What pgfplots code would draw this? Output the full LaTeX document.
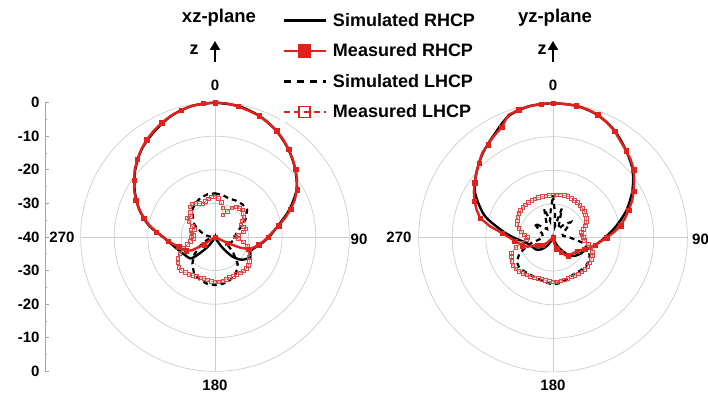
\documentclass[border=0pt]{standalone}
\usepackage{pgfplots}
\pgfplotsset{compat=1.18}
\usepackage{pgfplotstable}
\usepackage{fontspec}
\setmainfont{Liberation Sans}
\usetikzlibrary{arrows.meta}
\definecolor{mred}{RGB}{226,32,28}
\definecolor{lred}{RGB}{224,70,70}
\definecolor{gridg}{RGB}{205,205,205}
\definecolor{axisgray}{RGB}{160,165,180}

% ---------- xz-plane ----------
\pgfplotstableread{
t d
0 0
10 -0.4
20 -1.6
30 -3.5
40 -6.0
50 -8.8
60 -12.0
70 -16.5
80 -21.0
90 -24.0
100 -26.5
110 -28.5
120 -28.0
130 -29.5
138 -32
145 -36
155 -39.5
180 -40
205 -39.5
215 -37
222 -34
228 -30.5
240 -29.5
250 -28.5
260 -27
270 -24.5
280 -20
290 -16
300 -12.4
310 -9
320 -6
330 -3.8
340 -1.7
350 -0.4
360 0
}\simRL
\pgfplotstableread{
t d
0 0
5 -0.1
10 -0.5
15 -1.1
20 -1.6
25 -2.5
30 -3.4
35 -4.6
40 -5.9
45 -7.3
50 -8.7
55 -10.2
60 -11.8
65 -13.8
70 -16
75 -18.5
80 -20.8
85 -22.8
90 -24.2
95 -25.5
100 -26.8
105 -28
110 -29.5
113 -32
116 -36
120 -40
180 -40
230 -40
236 -36
240 -32
245 -30.5
250 -29.6
255 -28.8
260 -27.5
265 -26
270 -24.6
275 -22.5
280 -20.2
285 -18
290 -16
295 -14
300 -12.2
305 -10.6
310 -8.8
315 -7.3
320 -5.9
325 -4.6
330 -3.5
335 -2.5
340 -1.6
345 -0.9
350 -0.4
355 -0.1
360 0
}\meaRL
\pgfplotstableread{
t d
0 -27
10 -27.3
20 -27.8
30 -27.5
40 -27.3
50 -27.5
60 -29.5
70 -32
80 -33.5
90 -34.2
100 -34.4
110 -35
120 -36
130 -33
140 -29.5
150 -27.5
160 -26.5
170 -25.9
180 -25.7
190 -25.9
200 -26.5
210 -27.5
220 -29.5
230 -32
240 -35
250 -37.5
260 -39
270 -39
280 -37.5
290 -35.5
300 -33
310 -31.5
320 -29.5
330 -28.3
340 -27.6
350 -27.1
360 -27
}\simLL
\pgfplotstableread{
t d
0 -28
5 -28.5
10 -29.5
15 -31
20 -33
25 -31.5
30 -30
35 -29
40 -28.8
45 -28.5
50 -29
55 -29.5
60 -30.5
65 -31.5
70 -31
75 -30.5
80 -31.5
85 -33
90 -34
95 -33
100 -31.5
105 -30
110 -29
115 -28.5
120 -28.2
125 -27.5
130 -27
135 -26.7
140 -26.8
145 -27
150 -27.2
155 -27
160 -27.3
165 -27
170 -26.8
175 -26.6
180 -26.6
185 -26.8
190 -27
195 -27.2
200 -27.1
205 -27
210 -26.8
215 -26.5
220 -26.2
225 -25.9
230 -26
235 -26.5
240 -27.3
245 -28.5
250 -30
255 -31.5
260 -32.5
265 -33.5
270 -33
275 -33.5
280 -33
285 -32.5
290 -33.5
295 -32.5
300 -31
305 -30
310 -30.5
315 -29.5
320 -28.3
325 -28
330 -28.5
335 -29
340 -29.5
345 -29
350 -28.5
355 -28
360 -28
}\meaLL

% ---------- yz-plane ----------
\pgfplotstableread{
t d
0 0
10 -0.2
20 -1.2
30 -3.3
40 -6.2
50 -9.0
60 -12.8
70 -16.8
80 -21
90 -24.5
100 -27.2
110 -29.5
120 -30.5
130 -31.5
140 -33.5
150 -36.5
160 -39
180 -40
200 -39.5
215 -37
225 -35
235 -33.8
245 -33.3
258 -32
270 -28.2
278 -24.5
288 -18.5
300 -13.2
310 -10.2
320 -7.4
330 -4.8
340 -1.5
350 -0.3
360 0
}\simRR
\pgfplotstableread{
t d
0 0
5 -0.1
10 -0.2
15 -0.5
20 -1.1
25 -2.2
30 -3.4
35 -5.0
40 -6.2
45 -7.3
50 -8.6
55 -10.5
60 -12.3
65 -14
70 -16
75 -17.8
80 -19.6
85 -21.8
90 -24
95 -25.8
100 -27.3
105 -28.5
110 -30
115 -31
120 -31.8
130 -32.5
140 -32.9
145 -33.5
150 -35
155 -35.6
162 -36.5
170 -38.5
180 -40
200 -40
220 -40
228 -37.6
235 -36
240 -35.2
245 -34.7
250 -32
255 -30.5
260 -29.8
265 -28.5
270 -27
275 -24.8
280 -21
285 -17.5
290 -15.8
295 -14.2
300 -12.8
305 -11.5
310 -10.2
315 -8.8
320 -7.2
325 -6.2
330 -5.0
335 -3.8
340 -1.2
345 -0.6
350 -0.3
355 -0.1
360 0
}\meaRR
\pgfplotstableread{
t d
0 -27.4
5 -33
10 -36.5
17 -31
24 -35.5
32 -37
40 -35
49 -33
58 -35.5
68 -37
80 -37
90 -35
100 -31
110 -28.5
120 -27.5
130 -27
140 -27.2
150 -27.5
160 -27
170 -26.3
180 -26
190 -26.5
200 -27
210 -27
220 -26.8
228 -26.5
236 -27
245 -29
255 -33
265 -36.5
275 -37
290 -36.5
300 -35
307 -33
315 -35.5
325 -37
335 -35.5
343 -31
350 -35
355 -32
360 -27.4
}\simLR
\pgfplotstableread{
t d
0 -27.4
5 -27.2
10 -27.1
15 -27.0
20 -27.0
25 -27.1
30 -27.2
35 -27.3
40 -27.5
45 -27.7
50 -27.8
55 -28.2
60 -28.5
65 -29
70 -29.8
75 -30.7
80 -31.5
85 -31.4
90 -31
95 -30.6
100 -29.3
105 -28.3
110 -27.6
115 -27
120 -26.9
125 -26.8
130 -26.7
135 -26.6
140 -26.7
145 -26.8
150 -27
155 -27.1
160 -27.1
165 -27
170 -26.9
175 -26.8
180 -26.8
185 -26.9
190 -27.1
195 -27.1
200 -27
205 -26.8
210 -26.5
215 -26.4
220 -26
225 -25.7
230 -25.5
235 -25.4
240 -25.8
245 -26.3
250 -26.8
255 -28.5
260 -30.5
265 -32
270 -32.3
275 -31.5
280 -30.5
285 -29.5
290 -28.6
295 -28.2
300 -27.9
305 -27.6
310 -27.4
315 -27.3
320 -27.3
325 -27.3
330 -27.3
335 -27.3
340 -27.3
345 -27.4
350 -27.4
355 -27.4
360 -27.4
}\meaLR

\newcommand{\px}{(\thisrow{d}+40)*sin(\thisrow{t})}
\newcommand{\py}{(\thisrow{d}+40)*cos(\thisrow{t})}

\pgfplotsset{
  simR/.style={black, line width=2.4pt, smooth, tension=0.5, forget plot},
  meaR/.style={mred, line width=2.4pt, mark=square*, mark size=2.2pt, mark repeat=2, mark options={solid, fill=mred, draw=mred, line width=0.3pt}, forget plot},
  simL/.style={black, line width=2.2pt, dash pattern=on 5pt off 4pt, forget plot},
  meaL/.style={lred, line width=0.5pt, mark=square, mark size=1.8pt, mark options={solid, fill=white, draw=lred, line width=0.7pt}, forget plot},
}
\tikzset{polgrid/.style={gridg, line width=0.7pt}}

\begin{document}
\begin{tikzpicture}
\useasboundingbox (0pt,0pt) rectangle (708pt,393pt);

% ---------- left axis: xz-plane ----------
\begin{axis}[
  at={(215pt,156pt)}, anchor=origin,
  x=3.36pt, y=3.36pt,
  xmin=-50.6, xmax=40, ymin=-40, ymax=40,
  axis x line=none, axis y line*=left,
  y axis line style={draw=axisgray, line width=0.8pt, -},
  ytick={-40,-30,...,40},
  yticklabels={0,-10,-20,-30,-40,-30,-20,-10,0},
  minor y tick num=1,
  tick align=inside,
  major tick length=4pt, minor tick length=2.5pt,
  every tick/.style={axisgray, line width=0.6pt},
  yticklabel style={font=\fontsize{15}{15}\selectfont\bfseries, xshift=-2pt},
  clip=false,
  legend style={at={(0.7720,1.3445)}, anchor=north west, draw=none, fill=white,
    inner sep=2pt, row sep=14pt, column sep=5pt,
    nodes={inner sep=1pt},
    font=\fontsize{18}{18}\selectfont\bfseries},
  legend cell align=left,
  legend image code/.code={\draw[mark repeat=2,mark phase=2,#1] plot coordinates {(0pt,0pt) (21pt,0pt) (42pt,0pt)};},
]
\draw[polgrid] (axis cs:0,0) circle [radius=10];
\draw[polgrid] (axis cs:0,0) circle [radius=20];
\draw[polgrid] (axis cs:0,0) circle [radius=30];
\draw[polgrid] (axis cs:0,0) circle [radius=40];
\draw[polgrid] (axis cs:-40,0) -- (axis cs:40,0);
\draw[polgrid] (axis cs:0,-40) -- (axis cs:0,40);
\addplot[simR] table[x expr={\px}, y expr={\py}] {\simRL};
\addplot[simL] table[x expr={\px}, y expr={\py}] {\simLL};
\addplot[meaL] table[x expr={\px}, y expr={\py}] {\meaLL};
\addplot[meaR] table[x expr={\px}, y expr={\py}] {\meaRL};
\addlegendimage{black, line width=2.6pt}
\addlegendentry{Simulated RHCP}
\addlegendimage{mred, line width=2.8pt, mark=square*, mark size=5.5pt, mark options={solid}}
\addlegendentry{Measured RHCP}
\addlegendimage{black, line width=2.6pt, dash pattern=on 7pt off 6pt}
\addlegendentry{Simulated LHCP}
\addlegendimage{mred, line width=1.8pt, dash pattern=on 6pt off 4pt, mark=square, mark size=5.5pt, mark options={solid, fill=white, line width=1.3pt}}
\addlegendentry{Measured LHCP}
\end{axis}

% ---------- right axis: yz-plane ----------
\begin{axis}[
  at={(553pt,155.5pt)}, anchor=origin,
  x=3.36pt, y=3.36pt,
  xmin=-40, xmax=40, ymin=-40, ymax=40,
  hide axis, clip=false,
]
\draw[polgrid] (axis cs:0,0) circle [radius=10];
\draw[polgrid] (axis cs:0,0) circle [radius=20];
\draw[polgrid] (axis cs:0,0) circle [radius=30];
\draw[polgrid] (axis cs:0,0) circle [radius=40];
\draw[polgrid] (axis cs:-40,0) -- (axis cs:40,0);
\draw[polgrid] (axis cs:0,-40) -- (axis cs:0,40);
\addplot[simR] table[x expr={\px}, y expr={\py}] {\simRR};
\addplot[simL] table[x expr={\px}, y expr={\py}] {\simLR};
\addplot[meaL] table[x expr={\px}, y expr={\py}] {\meaLR};
\addplot[meaR] table[x expr={\px}, y expr={\py}] {\meaRR};
\end{axis}

% ---------- labels ----------
\begin{scope}[every node/.style={font=\fontsize{15}{15}\selectfont\bfseries, inner sep=0pt}]
\node[font=\fontsize{18.5}{18.5}\selectfont\bfseries] at (219pt,375pt) {xz-plane};
\node[font=\fontsize{18.5}{18.5}\selectfont\bfseries] at (555pt,375pt) {yz-plane};
\node[font=\fontsize{18}{18}\selectfont\bfseries] at (194pt,343pt) {z};
\node[font=\fontsize{18}{18}\selectfont\bfseries] at (542pt,343pt) {z};
\draw[line width=2.6pt, -{Triangle[width=10pt,length=9pt]}] (215pt,331pt) -- (215pt,352pt);
\draw[line width=2.6pt, -{Triangle[width=10pt,length=9pt]}] (553pt,331pt) -- (553pt,352pt);
\node at (215pt,308pt) {0};
\node at (553pt,308pt) {0};
\node at (215pt,8pt) {180};
\node at (553pt,8pt) {180};
\node at (62pt,156pt) {270};
\node at (399pt,156pt) {270};
\node at (359pt,154pt) {90};
\node[anchor=west] at (692pt,154pt) {90};
\end{scope}
\end{tikzpicture}
\end{document}
